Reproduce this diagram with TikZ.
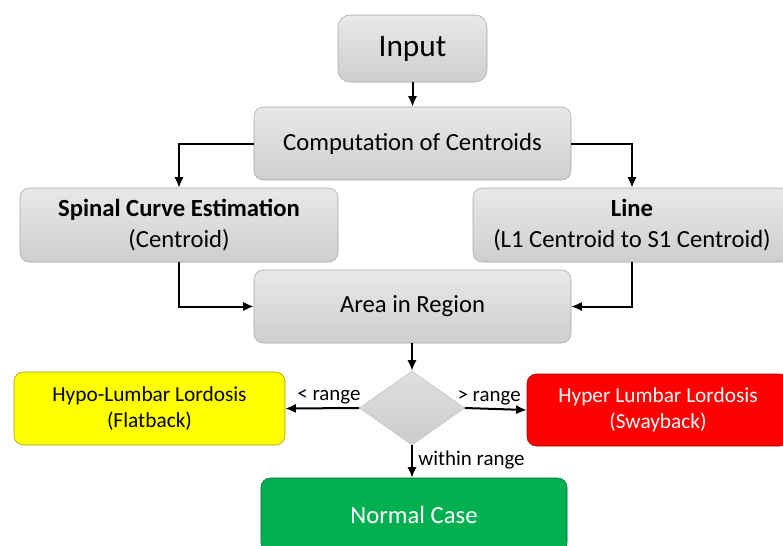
\documentclass[tikz,border=0pt]{standalone}
\usepackage{fontspec}
\setmainfont{Carlito}
\usetikzlibrary{positioning, arrows.meta, shapes.geometric, calc}

\begin{document}
\begin{tikzpicture}[x=0.75pt, y=-0.75pt,
    box/.style={draw=gray!70, thin, rounded corners=7pt, top color=gray!18, bottom color=gray!38,
        align=center, inner sep=0pt, font=\fontsize{18.5}{23}\selectfont},
    result/.style={draw=#1!60!black, thin, rounded corners=7pt, fill=#1,
        align=center, inner sep=0pt, font=\fontsize{16}{19.5}\selectfont},
    arr/.style={-{Latex[length=8pt,width=7pt]}, line width=1.5pt},
    lbl/.style={font=\fontsize{15.7}{18}\selectfont, inner sep=2pt}]
    \clip (0,0) rectangle (783,546);
    % gray boxes
    \node[box, minimum width=111.75pt, minimum height=50.25pt, rounded corners=9pt,
        font=\fontsize{23.5}{28}\selectfont] (inp) at (412.5,48.5) {Input};
    \node[box, minimum width=237.75pt, minimum height=54.75pt] (comp) at (412.5,143.5) {Computation of Centroids};
    \node[box, minimum width=238.5pt, minimum height=55.5pt] (spinal) at (179,225)
        {\textbf{Spinal Curve Estimation}\\(Centroid)};
    \node[box, minimum width=238.5pt, minimum height=55.5pt] (line) at (632,225)
        {\textbf{Line}\\(L1 Centroid to S1 Centroid)};
    \node[box, minimum width=237.75pt, minimum height=54.75pt] (area) at (412.5,306.5) {Area in Region};
    \node[diamond, draw=gray!50, top color=gray!25, bottom color=gray!40, inner sep=0pt,
        minimum width=78.75pt, minimum height=55.5pt] (check) at (412,408) {};
    % outcomes
    \definecolor{hypo}{RGB}{255,255,0}
    \definecolor{hyper}{RGB}{255,0,0}
    \definecolor{normal}{RGB}{0,176,80}
    \node[result=hypo, minimum width=203.25pt, minimum height=54.75pt] (flat) at (149.5,408.5)
        {Hypo-Lumbar Lordosis\\(Flatback)};
    \node[result=hyper, text=white, minimum width=196.5pt, minimum height=54pt] (sway) at (658,410)
        {Hyper Lumbar Lordosis\\(Swayback)};
    \node[result=normal, text=white, minimum width=229.5pt, minimum height=55.5pt,
        font=\fontsize{18.5}{23}\selectfont] (normal) at (414,515) {Normal Case};
    % connectors
    \draw[arr] (inp) -- (comp);
    \draw[arr] (comp.west) -| (spinal.north);
    \draw[arr] (comp.east) -| (line.north);
    \draw[arr] (spinal.south) |- (area.west);
    \draw[arr] (line.south) |- (area.east);
    \draw[arr] (check.north |- area.south) -- (check.north);
    \draw[arr] (check.west) -- node[lbl, above, xshift=5pt] {< range} (flat.east);
    \draw[arr] (check.east) -- node[lbl, above, xshift=-5pt] {> range} (sway.west);
    \draw[arr] (check.south) -- node[lbl, right, pos=0.45, xshift=2pt] {within range} (check.south |- normal.north);
\end{tikzpicture}
\end{document}
